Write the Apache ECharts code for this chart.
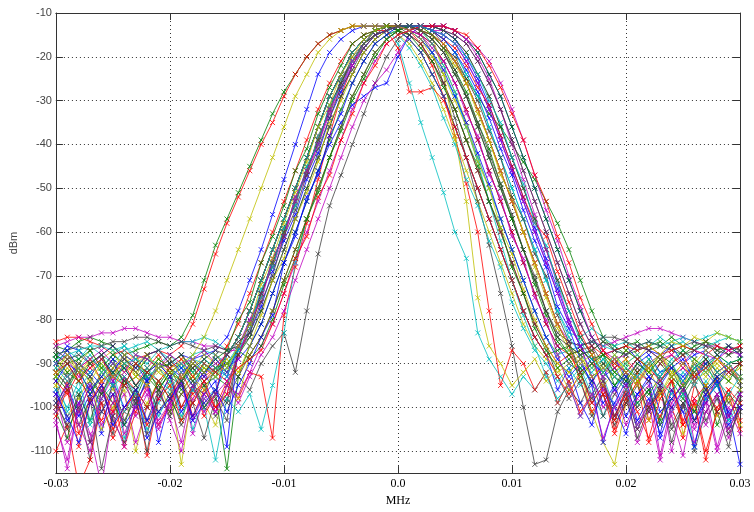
<!DOCTYPE html>
<html>
<head>
<meta charset="utf-8">
<script src="https://cdn.jsdelivr.net/npm/echarts@6/dist/echarts.min.js"></script>
<style>
html, body { margin: 0; padding: 0; background: #fff; }
#chart { width: 754px; height: 512px; }
</style>
</head>
<body>
<div id="chart"></div>
<script>
// frequency offsets (MHz), one point every 0.001
const freqMHz = [
  -0.030,-0.029,-0.028,-0.027,-0.026,-0.025,-0.024,-0.023,-0.022,-0.021,
  -0.020,-0.019,-0.018,-0.017,-0.016,-0.015,-0.014,-0.013,-0.012,-0.011,
  -0.010,-0.009,-0.008,-0.007,-0.006,-0.005,-0.004,-0.003,-0.002,-0.001,
  0.000,0.001,0.002,0.003,0.004,0.005,0.006,0.007,0.008,0.009,
  0.010,0.011,0.012,0.013,0.014,0.015,0.016,0.017,0.018,0.019,
  0.020,0.021,0.022,0.023,0.024,0.025,0.026,0.027,0.028,0.029,0.030
];

// measured spectra, dBm
const t01 = [-91,-93,-90,-92,-95,-91,-89,-92,-94,-90,
  -91,-93,-89,-92,-90,-93,-86,-81,-74,-67,
  -60,-53,-46,-39,-32,-26,-21,-17,-15,-14,
  -13,-14,-15,-17,-21,-26,-32,-39,-46,-53,
  -60,-67,-74,-81,-86,-90,-92,-89,-93,-91,
  -95,-92,-90,-94,-91,-93,-90,-92,-95,-91,-93];
const t02 = [-86,-87,-85,-84,-85,-86,-88,-87,-86,-85,
  -86,-84,-79,-71,-63,-57,-51,-45,-39,-33,
  -28,-24,-20,-17,-15,-14,-13,-13,-13,-13,
  -14,-16,-19,-24,-29,-36,-43,-50,-57,-64,
  -71,-78,-84,-88,-87,-86,-88,-87,-85,-86,
  -88,-87,-86,-85,-87,-88,-86,-85,-87,-86,-88];
const t03 = [-85,-84,-84,-85,-86,-88,-87,-89,-88,-87,
  -88,-86,-81,-73,-65,-58,-52,-46,-40,-35,
  -29,-24,-20,-17,-15,-14,-13,-13,-13,-13,
  -14,-15,-17,-21,-26,-32,-39,-46,-53,-60,
  -67,-74,-81,-86,-90,-88,-92,-90,-87,-91,
  -89,-92,-94,-90,-88,-91,-93,-89,-92,-90,-94];
const t04 = [-93,-101,-96,-104,-98,-95,-107,-99,-94,-102,
  -97,-93,-105,-98,-96,-91,-86,-81,-74,-67,
  -60,-53,-46,-39,-32,-26,-21,-17,-14,-13,
  -17,-26,-35,-43,-51,-60,-66,-83,-89,-93,
  -97,-93,-96,-92,-99,-94,-91,-97,-102,-95,
  -93,-99,-96,-104,-98,-95,-101,-94,-97,-103,-96];
const t05 = [-104,-112,-99,-106,-118,-101,-97,-108,-100,-95,
  -103,-110,-98,-94,-101,-97,-86,-81,-74,-67,
  -60,-53,-46,-39,-32,-26,-21,-17,-15,-14,
  -13,-13,-13,-14,-14,-16,-19,-24,-29,-36,
  -43,-50,-57,-64,-71,-78,-84,-88,-96,-102,
  -97,-108,-101,-95,-110,-99,-104,-97,-109,-100,-106];
const t06 = [-90,-88,-92,-89,-91,-94,-90,-88,-93,-91,
  -95,-113,-96,-90,-92,-88,-84,-78,-71,-64,
  -57,-50,-43,-36,-29,-24,-19,-16,-14,-13,
  -15,-17,-21,-26,-32,-39,-46,-53,-60,-67,
  -74,-81,-86,-89,-92,-90,-88,-93,-91,-89,
  -94,-90,-92,-88,-91,-95,-89,-92,-90,-93,-91];
const t07 = [-98,-105,-100,-112,-96,-103,-108,-99,-94,-101,
  -97,-104,-99,-95,-102,-98,-93,-96,-90,-86,
  -83,-92,-78,-65,-54,-47,-40,-33,-26,-20,
  -16,-14,-13,-14,-17,-21,-26,-32,-39,-46,
  -53,-60,-67,-74,-81,-86,-92,-99,-95,-103,
  -98,-107,-100,-96,-104,-99,-110,-101,-97,-105,-100];
const t08 = [-89,-86,-87,-90,-88,-86,-89,-91,-88,-87,
  -90,-88,-89,-88,-87,-84,-78,-71,-64,-56,
  -48,-40,-32,-24,-19,-16,-14,-13,-13,-13,
  -13,-13,-13,-13,-13,-14,-16,-19,-24,-29,
  -36,-43,-50,-57,-64,-71,-78,-84,-88,-87,
  -86,-89,-87,-88,-86,-90,-88,-87,-89,-86,-88];
const t09 = [-92,-95,-91,-97,-93,-90,-94,-98,-92,-95,
  -91,-96,-93,-90,-92,-88,-84,-78,-71,-64,
  -57,-50,-43,-36,-29,-24,-19,-16,-14,-13,
  -13,-13,-14,-15,-18,-21,-25,-29,-33,-36,
  -40,-44,-48,-53,-58,-64,-71,-78,-84,-87,
  -86,-85,-87,-86,-84,-86,-87,-85,-86,-88,-86];
const t10 = [-100,-94,-106,-98,-103,-97,-109,-101,-95,-104,
  -99,-93,-102,-96,-100,-94,-98,-92,-93,-107,
  -79,-68,-58,-48,-38,-29,-22,-17,-14,-13,
  -13,-14,-17,-22,-29,-38,-49,-60,-78,-95,
  -87,-90,-96,-92,-99,-94,-101,-97,-93,-105,
  -98,-92,-103,-96,-100,-107,-95,-99,-93,-102,-97];
const t11 = [-88,-90,-87,-89,-91,-88,-86,-89,-90,-87,
  -89,-91,-88,-87,-88,-90,-86,-81,-74,-67,
  -60,-53,-46,-39,-32,-26,-21,-17,-15,-14,
  -13,-13,-13,-14,-16,-19,-24,-29,-36,-43,
  -50,-57,-64,-71,-78,-83,-84,-82,-84,-86,
  -85,-87,-86,-84,-86,-85,-87,-86,-85,-84,-85];
const t12 = [-86,-85,-84,-84,-83,-83,-82,-82,-83,-84,
  -84,-85,-85,-86,-86,-87,-87,-84,-78,-71,
  -64,-57,-50,-43,-36,-29,-24,-19,-16,-14,
  -13,-13,-14,-15,-17,-21,-26,-32,-39,-46,
  -53,-60,-67,-74,-81,-85,-86,-85,-86,-85,
  -84,-83,-82,-82,-83,-84,-85,-86,-86,-87,-86];
const t13 = [-95,-102,-98,-93,-105,-100,-96,-110,-99,-94,
  -101,-97,-92,-99,-104,-95,-98,-88,-84,-78,
  -71,-64,-57,-50,-43,-36,-29,-24,-19,-16,
  -14,-13,-14,-17,-22,-28,-35,-43,-50,-57,
  -64,-71,-78,-84,-88,-95,-92,-101,-108,-113,
  -99,-94,-103,-97,-92,-106,-100,-95,-102,-98,-104];
const t14 = [-97,-92,-101,-95,-99,-106,-93,-98,-103,-96,
  -92,-100,-95,-97,-91,-88,-84,-78,-71,-64,
  -57,-50,-43,-36,-29,-24,-19,-16,-14,-13,
  -13,-13,-15,-19,-26,-34,-43,-53,-63,-74,
  -86,-100,-113,-112,-101,-96,-99,-94,-102,-97,
  -93,-100,-96,-104,-98,-95,-101,-97,-93,-99,-96];
const t15 = [-96,-103,-99,-94,-101,-97,-104,-100,-93,-108,
  -98,-95,-102,-97,-94,-109,-86,-81,-74,-67,
  -60,-53,-46,-39,-32,-26,-21,-17,-15,-14,
  -13,-13,-13,-14,-15,-17,-21,-26,-32,-39,
  -46,-53,-60,-67,-74,-81,-86,-93,-99,-95,
  -102,-97,-94,-107,-100,-96,-103,-98,-95,-101,-113];
const t16 = [-93,-90,-94,-97,-92,-89,-95,-93,-91,-96,
  -92,-90,-94,-91,-93,-95,-88,-84,-78,-71,
  -64,-57,-50,-43,-36,-29,-24,-19,-16,-14,
  -13,-13,-14,-16,-19,-24,-29,-36,-43,-50,
  -57,-64,-71,-78,-84,-88,-91,-94,-90,-93,
  -96,-92,-89,-94,-91,-97,-93,-90,-95,-92,-94];
const t17 = [-110,-104,-118,-112,-99,-107,-101,-96,-104,-98,
  -93,-100,-95,-102,-97,-86,-81,-74,-67,-60,
  -53,-46,-39,-32,-26,-21,-17,-15,-14,-13,
  -13,-13,-14,-15,-17,-21,-26,-32,-39,-46,
  -53,-60,-67,-74,-81,-86,-94,-101,-97,-106,
  -99,-94,-108,-102,-96,-104,-99,-110,-101,-97,-105];
const t18 = [-88,-87,-89,-86,-88,-90,-87,-86,-85,-87,
  -86,-85,-85,-84,-85,-87,-86,-81,-74,-67,
  -60,-53,-46,-39,-32,-26,-21,-17,-15,-14,
  -13,-14,-16,-19,-24,-29,-36,-43,-50,-57,
  -64,-71,-78,-84,-88,-87,-86,-85,-86,-87,
  -88,-86,-85,-86,-85,-84,-85,-84,-83,-84,-85];
const t19 = [-103,-114,-99,-108,-96,-102,-109,-98,-95,-104,
  -100,-94,-106,-98,-101,-95,-97,-92,-86,-81,
  -74,-67,-60,-53,-46,-39,-32,-26,-21,-17,
  -15,-14,-13,-13,-14,-15,-17,-21,-26,-32,
  -39,-46,-53,-60,-67,-74,-81,-86,-94,-100,
  -96,-105,-99,-93,-102,-111,-98,-104,-97,-107,-100];
const t20 = [-89,-92,-90,-87,-91,-93,-88,-90,-92,-89,
  -91,-90,-88,-84,-78,-71,-64,-57,-50,-43,
  -36,-29,-24,-19,-16,-14,-13,-13,-13,-13,
  -14,-16,-19,-24,-29,-36,-43,-50,-57,-64,
  -71,-78,-84,-88,-90,-92,-89,-87,-91,-93,
  -90,-88,-92,-89,-91,-94,-90,-87,-89,-92,-90];
const t21 = [-88,-87,-86,-87,-86,-85,-85,-84,-84,-85,
  -86,-85,-86,-87,-86,-87,-86,-81,-74,-67,
  -60,-53,-46,-39,-32,-26,-21,-17,-15,-14,
  -13,-13,-14,-16,-19,-24,-29,-36,-43,-50,
  -57,-64,-71,-78,-83,-85,-86,-85,-84,-84,
  -85,-86,-85,-86,-87,-86,-85,-86,-87,-88,-87];
const t22 = [-99,-95,-102,-97,-106,-94,-100,-96,-103,-98,
  -93,-101,-96,-92,-97,-88,-84,-78,-71,-64,
  -57,-50,-43,-36,-29,-24,-19,-16,-14,-13,
  -14,-16,-19,-24,-29,-36,-43,-50,-57,-64,
  -71,-78,-84,-88,-96,-91,-99,-104,-95,-100,
  -106,-97,-93,-101,-98,-95,-103,-99,-94,-102,-97];
const t23 = [-101,-107,-97,-103,-95,-99,-104,-96,-100,-94,
  -98,-103,-95,-100,-97,-114,-93,-86,-81,-74,
  -67,-60,-53,-46,-39,-32,-26,-21,-17,-15,
  -14,-13,-13,-13,-13,-14,-16,-19,-24,-29,
  -36,-43,-50,-57,-64,-71,-78,-84,-88,-95,
  -92,-99,-96,-103,-94,-98,-101,-95,-104,-97,-100];
const t24 = [-90,-93,-91,-89,-94,-92,-90,-95,-91,-88,
  -92,-94,-90,-93,-91,-88,-84,-78,-71,-64,
  -57,-50,-43,-36,-29,-24,-19,-16,-14,-13,
  -13,-14,-15,-17,-21,-26,-32,-39,-46,-53,
  -60,-67,-74,-81,-86,-88,-87,-86,-88,-87,
  -86,-87,-86,-88,-87,-86,-87,-88,-86,-87,-86];
const t25 = [-96,-100,-94,-103,-98,-92,-101,-97,-105,-99,
  -94,-102,-96,-100,-112,-98,-101,-97,-105,-95,
  -83,-67,-57,-50,-43,-36,-29,-24,-19,-16,
  -14,-13,-14,-17,-22,-28,-36,-44,-53,-62,
  -71,-79,-86,-93,-98,-95,-102,-97,-93,-100,
  -96,-104,-99,-94,-101,-97,-109,-98,-95,-103,-99];
const t26 = [-92,-89,-93,-91,-88,-94,-90,-92,-95,-91,
  -89,-93,-90,-92,-91,-88,-84,-78,-71,-64,
  -57,-50,-43,-36,-29,-24,-19,-16,-14,-13,
  -13,-13,-13,-14,-15,-17,-21,-26,-32,-39,
  -46,-53,-60,-67,-74,-81,-86,-90,-93,-89,
  -92,-95,-90,-88,-93,-91,-94,-89,-92,-90,-93];
const t27 = [-91,-88,-90,-93,-89,-87,-92,-90,-88,-91,
  -93,-89,-91,-88,-90,-92,-86,-81,-74,-67,
  -60,-53,-46,-39,-32,-26,-21,-17,-15,-14,
  -13,-13,-14,-15,-17,-21,-26,-32,-39,-46,
  -53,-60,-67,-74,-81,-86,-89,-91,-88,-90,
  -87,-89,-86,-88,-85,-86,-84,-85,-83,-84,-85];
const t28 = [-100,-96,-104,-98,-114,-102,-95,-99,-106,-97,
  -101,-94,-99,-107,-98,-103,-86,-81,-74,-67,
  -60,-53,-46,-39,-32,-26,-21,-17,-15,-14,
  -13,-15,-17,-21,-26,-32,-39,-46,-53,-60,
  -67,-74,-81,-86,-93,-98,-94,-102,-97,-104,
  -99,-95,-101,-96,-105,-100,-94,-103,-98,-106,-101];
const t29 = [-90,-87,-91,-93,-89,-92,-88,-90,-94,-91,
  -89,-92,-90,-93,-88,-91,-89,-86,-81,-74,
  -67,-60,-53,-46,-40,-35,-31,-29,-27,-26,
  -20,-15,-13,-13,-14,-16,-20,-25,-31,-38,
  -45,-52,-59,-66,-73,-80,-86,-90,-92,-89,
  -93,-90,-88,-92,-91,-89,-94,-90,-88,-92,-90];
const t30 = [-94,-97,-92,-99,-95,-101,-93,-96,-100,-94,
  -98,-92,-97,-94,-91,-88,-84,-78,-71,-64,
  -57,-50,-43,-36,-29,-24,-19,-16,-14,-14,
  -18,-28,-28,-27,-30,-36,-43,-50,-57,-64,
  -71,-78,-84,-88,-93,-97,-92,-99,-95,-102,
  -96,-93,-100,-97,-94,-103,-98,-95,-101,-96,-99];
const t31 = [-93,-96,-91,-94,-97,-92,-95,-90,-93,-96,
  -92,-94,-91,-95,-93,-88,-84,-78,-71,-64,
  -57,-50,-43,-36,-29,-24,-19,-16,-14,-13,
  -13,-13,-13,-13,-14,-16,-19,-24,-29,-36,
  -43,-50,-57,-64,-71,-78,-84,-88,-92,-95,
  -91,-94,-97,-93,-90,-95,-92,-96,-93,-91,-94];
const t32 = [-89,-88,-87,-86,-86,-87,-86,-88,-89,-90,
  -88,-91,-89,-90,-92,-88,-84,-78,-71,-64,
  -57,-50,-43,-36,-29,-24,-19,-16,-14,-13,
  -13,-13,-13,-14,-16,-19,-24,-29,-36,-43,
  -50,-57,-64,-71,-78,-84,-88,-91,-89,-92,
  -90,-88,-91,-93,-89,-87,-90,-92,-88,-90,-89];
const t33 = [-97,-108,-101,-95,-104,-99,-93,-102,-97,-105,
  -99,-94,-103,-97,-101,-95,-99,-93,-88,-84,
  -78,-71,-64,-57,-50,-43,-36,-30,-26,-23,
  -19,-15,-13,-13,-13,-14,-16,-20,-25,-32,
  -40,-48,-56,-64,-72,-80,-86,-93,-100,-96,
  -104,-98,-95,-111,-99,-94,-108,-101,-97,-105,-100];
const t34 = [-95,-91,-94,-89,-92,-96,-90,-93,-88,-92,
  -94,-90,-93,-96,-91,-89,-92,-88,-84,-78,
  -71,-64,-57,-50,-43,-36,-29,-24,-19,-16,
  -14,-13,-13,-15,-24,-38,-53,-75,-86,-90,
  -95,-92,-89,-94,-91,-96,-93,-90,-95,-92,
  -89,-94,-91,-97,-93,-90,-92,-95,-91,-94,-96];
const t35 = [-92,-95,-90,-93,-97,-91,-94,-96,-92,-90,
  -93,-95,-91,-94,-92,-90,-93,-88,-84,-78,
  -71,-64,-57,-50,-43,-36,-29,-24,-19,-16,
  -14,-13,-13,-13,-14,-15,-17,-21,-26,-32,
  -39,-46,-53,-60,-67,-74,-81,-86,-90,-93,
  -95,-91,-94,-90,-93,-96,-92,-89,-94,-91,-95];
const t36 = [-94,-90,-92,-96,-93,-89,-91,-95,-92,-90,
  -93,-91,-95,-92,-89,-92,-87,-83,-77,-69,
  -62,-56,-48,-42,-34,-28,-22,-18,-15,-14,
  -13,-14,-16,-19,-23,-29,-35,-42,-49,-57,
  -64,-71,-78,-84,-89,-93,-90,-94,-91,-96,
  -92,-89,-93,-95,-91,-94,-90,-96,-93,-91,-94];
const t37 = [-88,-90,-89,-87,-91,-88,-90,-92,-89,-91,
  -90,-88,-92,-89,-91,-90,-87,-89,-86,-80,
  -72,-66,-57,-51,-43,-37,-30,-25,-20,-16,
  -14,-13,-13,-15,-18,-23,-28,-35,-41,-49,
  -57,-64,-72,-79,-85,-88,-87,-89,-88,-90,
  -87,-89,-91,-88,-90,-87,-89,-91,-88,-90,-89];
const t38 = [-102,-96,-109,-99,-94,-105,-100,-97,-111,-98,
  -95,-103,-99,-94,-100,-97,-88,-82,-75,-66,
  -61,-52,-47,-38,-33,-25,-21,-17,-14,-13,
  -13,-13,-13,-14,-16,-18,-22,-27,-31,-38,
  -45,-52,-58,-61,-69,-76,-83,-88,-97,-103,
  -96,-101,-107,-98,-94,-104,-99,-112,-100,-96,-103];
const t39 = [-91,-94,-96,-92,-90,-95,-93,-97,-91,-94,
  -96,-92,-95,-90,-93,-91,-87,-80,-75,-66,
  -61,-52,-47,-38,-33,-25,-21,-17,-14,-13,
  -15,-18,-22,-27,-34,-40,-48,-54,-62,-68,
  -76,-82,-87,-90,-94,-91,-95,-92,-89,-93,
  -96,-93,-90,-94,-97,-92,-95,-91,-94,-97,-93];
const t40 = [-90,-88,-91,-89,-87,-90,-92,-88,-89,-91,
  -88,-90,-89,-87,-90,-88,-86,-80,-74,-68,
  -61,-53,-47,-40,-33,-27,-22,-18,-15,-14,
  -13,-13,-13,-13,-13,-14,-16,-18,-21,-26,
  -32,-39,-47,-55,-62,-70,-77,-84,-87,-89,
  -88,-86,-87,-89,-88,-90,-87,-88,-89,-87,-88];
const t41 = [-93,-89,-92,-90,-94,-91,-88,-93,-95,-90,
  -92,-94,-89,-91,-93,-90,-92,-86,-79,-71,
  -66,-57,-51,-44,-35,-30,-24,-19,-16,-14,
  -13,-13,-14,-15,-18,-22,-26,-33,-39,-47,
  -52,-60,-68,-75,-82,-87,-90,-88,-92,-89,
  -91,-94,-90,-88,-92,-95,-90,-93,-89,-91,-94];
const t42 = [-99,-104,-97,-108,-101,-95,-103,-98,-110,-96,
  -102,-97,-94,-100,-96,-99,-88,-83,-74,-68,
  -59,-54,-45,-40,-31,-26,-20,-17,-15,-13,
  -13,-13,-14,-15,-18,-20,-25,-30,-37,-43,
  -52,-57,-65,-70,-79,-85,-92,-98,-94,-102,
  -97,-105,-100,-95,-108,-99,-103,-96,-101,-109,-98];
const t43 = [-97,-102,-108,-99,-95,-104,-100,-96,-107,-101,
  -98,-94,-103,-99,-96,-101,-95,-90,-84,-79,
  -67,-61,-52,-47,-38,-33,-26,-21,-17,-15,
  -13,-13,-13,-14,-16,-19,-23,-28,-34,-41,
  -47,-55,-62,-68,-77,-82,-89,-95,-108,-99,
  -94,-103,-98,-106,-96,-101,-109,-97,-94,-104,-100];
const t44 = [-89,-92,-94,-90,-88,-93,-91,-95,-92,-89,
  -91,-94,-90,-92,-89,-87,-80,-76,-67,-61,
  -54,-46,-41,-33,-27,-22,-17,-15,-14,-13,
  -14,-15,-18,-21,-27,-32,-39,-45,-53,-59,
  -68,-74,-82,-87,-91,-89,-93,-90,-88,-92,
  -94,-90,-92,-89,-93,-96,-91,-89,-92,-94,-90];
const t45 = [-92,-90,-94,-91,-89,-93,-95,-90,-92,-94,
  -91,-89,-93,-90,-92,-94,-91,-89,-87,-81,
  -74,-66,-61,-52,-47,-39,-33,-26,-22,-17,
  -15,-14,-13,-13,-13,-14,-15,-18,-22,-27,
  -33,-39,-47,-53,-61,-67,-75,-81,-87,-90,
  -92,-89,-91,-94,-90,-88,-93,-91,-89,-92,-90];
const t46 = [-90,-93,-91,-88,-92,-95,-90,-89,-93,-91,
  -94,-90,-92,-89,-91,-93,-87,-82,-73,-68,
  -59,-54,-45,-40,-31,-27,-21,-18,-15,-14,
  -13,-13,-13,-14,-15,-17,-20,-24,-30,-35,
  -43,-49,-58,-63,-72,-78,-85,-89,-92,-88,
  -91,-93,-89,-92,-90,-94,-91,-88,-92,-90,-93];
const t47 = [-101,-95,-104,-110,-98,-93,-106,-100,-96,-103,
  -99,-108,-95,-101,-97,-94,-89,-80,-76,-66,
  -61,-52,-46,-40,-32,-27,-21,-18,-15,-14,
  -13,-14,-15,-18,-21,-26,-33,-38,-47,-52,
  -61,-66,-75,-80,-88,-95,-102,-97,-107,-100,
  -95,-104,-99,-112,-101,-96,-105,-99,-110,-102,-97];
const t48 = [-92,-88,-91,-94,-90,-93,-89,-92,-95,-91,
  -89,-93,-90,-92,-88,-91,-86,-81,-72,-66,
  -58,-51,-44,-36,-31,-24,-20,-16,-14,-13,
  -13,-14,-16,-20,-24,-30,-36,-44,-50,-59,
  -65,-73,-80,-86,-90,-92,-89,-93,-91,-88,
  -92,-95,-91,-89,-93,-90,-94,-92,-89,-91,-93];
const t49 = [-87,-89,-88,-90,-88,-86,-89,-91,-88,-87,
  -90,-88,-91,-89,-87,-88,-85,-83,-76,-70,
  -61,-55,-47,-41,-34,-27,-23,-18,-15,-14,
  -13,-13,-14,-16,-19,-23,-29,-35,-42,-49,
  -56,-64,-70,-78,-84,-86,-88,-87,-85,-87,
  -88,-86,-87,-89,-86,-88,-87,-85,-88,-86,-87];

const traces = [t01,t02,t03,t04,t05,t06,t07,t08,t09,t10,t11,t12,t13,t14,t15,t16,t17,t18,
  t19,t20,t21,t22,t23,t24,t25,t26,t27,t28,t29,t30,t31,t32,t33,t34,t35,
  t36,t37,t38,t39,t40,t41,t42,t43,t44,t45,t46,t47,t48,t49];

// MATLAB-like line colours
const B = '#0000ff', G = '#008000', R = '#ff0000', C = '#00bfbf', M = '#bf00bf', Y = '#bfbf00', K = '#404040';
const traceColors = [B,G,R,C,M,Y,K, B,G,R,C,M,Y,K, B,G,R,C,M,Y,K, B,G,R,C,M,Y,K, B,R,G,C,M,Y,K,
  B,G,R,C,M,Y,K, B,G,R,C,M,Y,K];

const crossMark = 'path://M0,0L10,10M10,0L0,10';

const chart = echarts.init(document.getElementById('chart'));

const series = traces.map((ys, k) => {
  const col = traceColors[k];
  return {
    type: 'line',
    data: freqMHz.map((f, i) => [f, ys[i]]),
    symbol: crossMark,
    symbolSize: 5,
    showSymbol: true,
    clip: true,
    silent: true,
    lineStyle: { width: 1, color: col, opacity: 0.8 },
    itemStyle: { color: col, borderColor: col, borderWidth: 1, opacity: 0.8 },
    emphasis: { disabled: true }
  };
});

const dotted = { type: [1, 3], color: '#333', width: 1 };
const frame = { show: true, onZero: false, lineStyle: { color: '#333', width: 1 } };

const option = {
  animation: false,
  backgroundColor: '#fff',
  grid: { left: 55, right: 14, top: 13, bottom: 32, show: false },
  xAxis: [
    {
      type: 'value', min: -0.03, max: 0.03, interval: 0.01,
      axisLine: frame,
      axisTick: { show: true, inside: true, length: 7, lineStyle: { color: '#333' } },
      axisLabel: {
        color: '#000', fontFamily: 'Liberation Serif', fontSize: 12, margin: 5,
        formatter: v => Math.abs(v) < 1e-9 ? '0.0' : v.toFixed(2)
      },
      splitLine: { show: true, lineStyle: dotted },
      name: 'MHz', nameLocation: 'middle', nameGap: 21,
      nameTextStyle: { color: '#000', fontFamily: 'Liberation Serif', fontSize: 12 }
    },
    {
      type: 'value', position: 'top', min: -0.03, max: 0.03, interval: 0.01,
      axisLine: frame,
      axisTick: { show: true, inside: true, length: 7, lineStyle: { color: '#333' } },
      axisLabel: { show: false },
      splitLine: { show: false }
    }
  ],
  yAxis: [
    {
      type: 'value', min: -115, max: -10, splitNumber: 10,
      axisLine: frame,
      axisTick: { show: true, inside: true, length: 7, lineStyle: { color: '#333' } },
      axisLabel: {
        color: '#444', fontFamily: 'Liberation Sans', fontSize: 11, margin: 4,
        showMinLabel: false
      },
      splitLine: { show: true, lineStyle: dotted },
      name: 'dBm', nameLocation: 'middle', nameGap: 36, nameRotate: 90,
      nameTextStyle: { color: '#444', fontFamily: 'Liberation Sans', fontSize: 11 }
    },
    {
      type: 'value', position: 'right', min: -115, max: -10, splitNumber: 10,
      axisLine: frame,
      axisTick: { show: true, inside: true, length: 7, lineStyle: { color: '#333' } },
      axisLabel: { show: false },
      splitLine: { show: false }
    }
  ],
  series: series
};

chart.setOption(option);
</script>
</body>
</html>
